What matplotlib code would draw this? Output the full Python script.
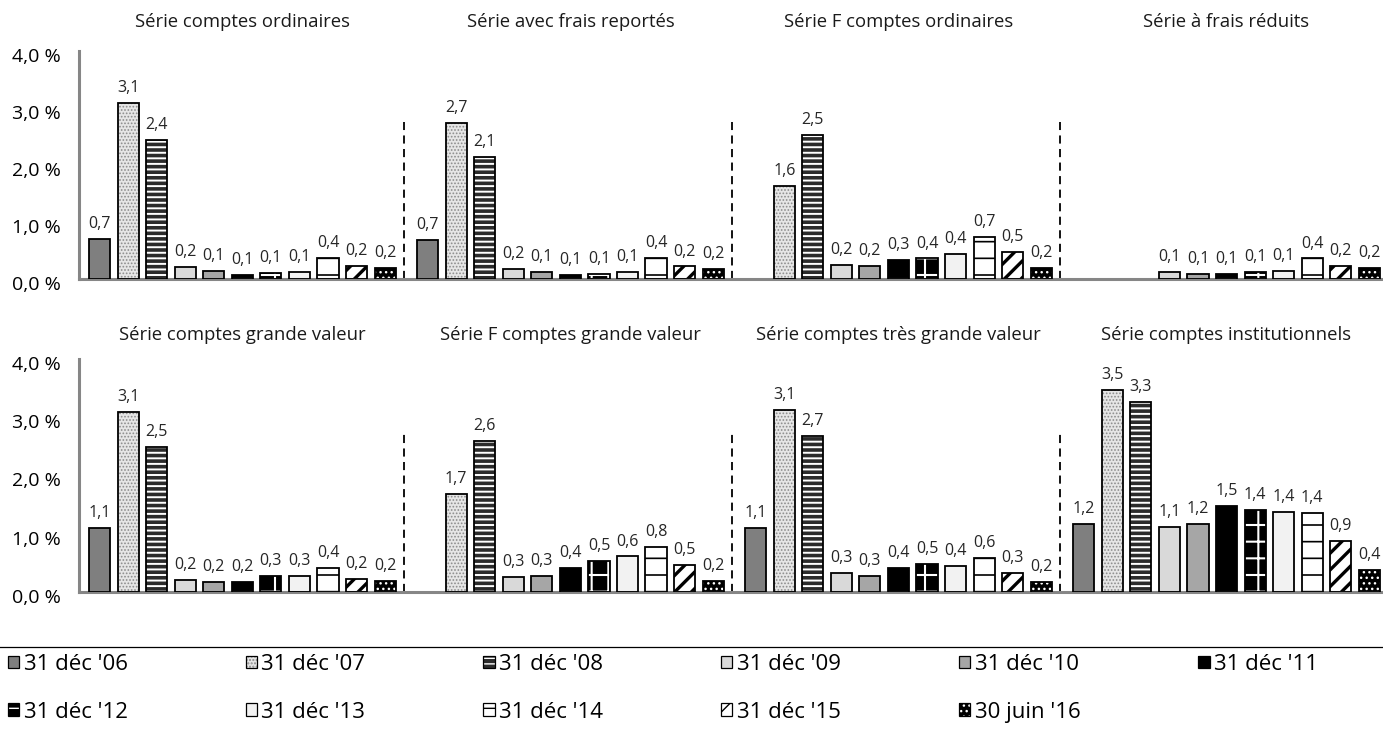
import numpy as np
import matplotlib
matplotlib.use("Agg")
import matplotlib as mpl
import matplotlib.pyplot as plt
import matplotlib.transforms as mtransforms
from matplotlib.patches import Patch
from matplotlib.lines import Line2D
from matplotlib.legend_handler import HandlerTuple

plt.rcParams['font.family'] = ['Open Sans', 'DejaVu Sans']

nan = np.nan

# ---- data -------------------------------------------------------------
series_labels = ["31 déc '06", "31 déc '07", "31 déc '08", "31 déc '09",
                 "31 déc '10", "31 déc '11", "31 déc '12", "31 déc '13",
                 "31 déc '14", "31 déc '15", "30 juin '16"]

top_titles = ["Série comptes ordinaires", "Série avec frais reportés",
              "Série F comptes ordinaires", "Série à frais réduits"]
bottom_titles = ["Série comptes grande valeur", "Série F comptes grande valeur",
                 "Série comptes très grande valeur", "Série comptes institutionnels"]

comptes_ordinaires = [0.70, 3.09, 2.44, 0.21, 0.14, 0.07, 0.10, 0.13, 0.37, 0.23, 0.19]
frais_reportes = [0.69, 2.74, 2.14, 0.17, 0.13, 0.07, 0.08, 0.12, 0.37, 0.22, 0.18]
f_comptes_ordinaires = [nan, 1.63, 2.53, 0.25, 0.23, 0.33, 0.36, 0.44, 0.74, 0.48, 0.20]
frais_reduits = [nan, nan, nan, 0.12, 0.08, 0.08, 0.13, 0.14, 0.36, 0.23, 0.19]

grande_valeur = [1.10, 3.09, 2.49, 0.21, 0.17, 0.17, 0.27, 0.28, 0.42, 0.22, 0.19]
f_grande_valeur = [nan, 1.68, 2.60, 0.26, 0.27, 0.42, 0.53, 0.61, 0.78, 0.46, 0.19]
tres_grande_valeur = [1.10, 3.12, 2.68, 0.32, 0.27, 0.42, 0.48, 0.44, 0.58, 0.33, 0.18]
institutionnels = [1.17, 3.47, 3.26, 1.11, 1.16, 1.48, 1.41, 1.38, 1.36, 0.88, 0.38]

top_groups = [comptes_ordinaires, frais_reportes, f_comptes_ordinaires, frais_reduits]
bottom_groups = [grande_valeur, f_grande_valeur, tres_grande_valeur, institutionnels]

y_ticks = [0, 1, 2, 3, 4]
y_tick_labels = ["0,0 %", "1,0 %", "2,0 %", "3,0 %", "4,0 %"]

# ---- styles (face, hatch, hatch colour, hatch linewidth) ---------------
styles = [
    ('#7f7f7f', None, '#7f7f7f', 1.0),
    ('#e6e6e6', '.....', '#8c8c8c', 0.8),
    ('#2b2b2b', '---', '#ffffff', 1.4),
    ('#d9d9d9', None, '#d9d9d9', 1.0),
    ('#a6a6a6', None, '#a6a6a6', 1.0),
    ('#000000', None, '#000000', 1.0),
    ('#000000', '+', '#ffffff', 1.5),
    ('#f2f2f2', None, '#f2f2f2', 1.0),
    ('#ffffff', '-', '#000000', 1.2),
    ('#ffffff', '//', '#000000', 2.4),
    ('#000000', '...', '#ffffff', 1.0),
]

W, H = 1383, 730
fig = plt.figure(figsize=(W / 100, H / 100), dpi=100)

GW = 11.49      # group width in slot units
FIRST = 0.72    # first bar centre offset
BW = 0.74       # bar width
XMAX = 45.67

ax_top = fig.add_axes([79 / W, (H - 279) / H, 1304 / W, 228 / H])
ax_bot = fig.add_axes([79 / W, (H - 592) / H, 1304 / W, 233 / H])


def with_hatch_lw(artist, lw):
    orig = artist.draw

    def draw(renderer, _orig=orig, _lw=lw):
        with mpl.rc_context({'hatch.linewidth': _lw}):
            _orig(renderer)
    artist.draw = draw


def draw_panel(ax, groups, titles, title_y):
    ax.set_xlim(0, XMAX)
    ax.set_ylim(0, 4)
    for s in ['top', 'right']:
        ax.spines[s].set_visible(False)
    for s in ['left', 'bottom']:
        ax.spines[s].set_color('#868686')
        ax.spines[s].set_linewidth(2.2)
    ax.set_xticks([])
    ax.set_yticks(y_ticks)
    ax.set_yticklabels(y_tick_labels, fontsize=14)
    ax.tick_params(axis='y', length=0, pad=13)
    shift = mtransforms.ScaledTranslation(0, -4 / 100, fig.dpi_scale_trans)
    for lbl in ax.get_yticklabels():
        lbl.set_transform(lbl.get_transform() + shift)
    trans = mtransforms.blended_transform_factory(ax.transData, fig.transFigure)
    for g, vals in enumerate(groups):
        for i, v in enumerate(vals):
            if np.isnan(v):
                continue
            x = g * GW + FIRST + i
            fc, hatch, hc, hlw = styles[i]
            with mpl.rc_context({'hatch.linewidth': hlw}):
                b = ax.bar(x, v, width=BW, color=fc, edgecolor=hc,
                           hatch=hatch, linewidth=0, zorder=2)
            for p in b.patches:
                with_hatch_lw(p, hlw)
            ax.bar(x, v, width=BW, fill=False, edgecolor='black',
                   linewidth=1.3, zorder=3)
            ax.annotate(f"{v:.1f}".replace('.', ','), (x, v),
                        xytext=(0, 5), textcoords='offset points',
                        ha='center', va='bottom', fontsize=11.5,
                        color='#262626', annotation_clip=False)
        ax.text(g * GW + FIRST + 5, title_y, titles[g], transform=trans,
                ha='center', va='center', fontsize=13.3, color='#1a1a1a')
        if g > 0:
            xd = g * GW - 0.12
            ax.plot([xd, xd], [0, 2.75], color='black', lw=1.3,
                    ls=(0, (4.5, 3)), zorder=1)


draw_panel(ax_top, top_groups, top_titles, 1 - 22 / H)
draw_panel(ax_bot, bottom_groups, bottom_titles, 1 - 335 / H)

# separator line
fig.add_artist(Line2D([0, 1], [1 - 647 / H] * 2, color='black', lw=0.9,
                      transform=fig.transFigure))

# legend (row-major order as in the reference)
handles = []
for fc, hatch, hc, hlw in styles:
    p1 = Patch(facecolor=fc, edgecolor=hc, hatch=hatch, linewidth=0)
    p2 = Patch(facecolor='none', edgecolor='black', linewidth=0.9)
    handles.append((p1, p2))

ncol = 6
order = []
for c in range(ncol):
    for r in range(2):
        k = r * ncol + c
        if k < len(series_labels):
            order.append(k)

fig.legend([handles[k] for k in order], [series_labels[k] for k in order],
           handler_map={tuple: HandlerTuple(ndivide=1, pad=0)},
           ncol=ncol, loc='upper left',
           bbox_to_anchor=(8 / W, 1 - 654 / H, 1310 / W, 0), mode='expand',
           frameon=False, fontsize=16, handlelength=0.5, handleheight=0.5,
           handletextpad=0.2, labelspacing=1.2, borderaxespad=0, borderpad=0)

fig.savefig('out.png', dpi=100)
